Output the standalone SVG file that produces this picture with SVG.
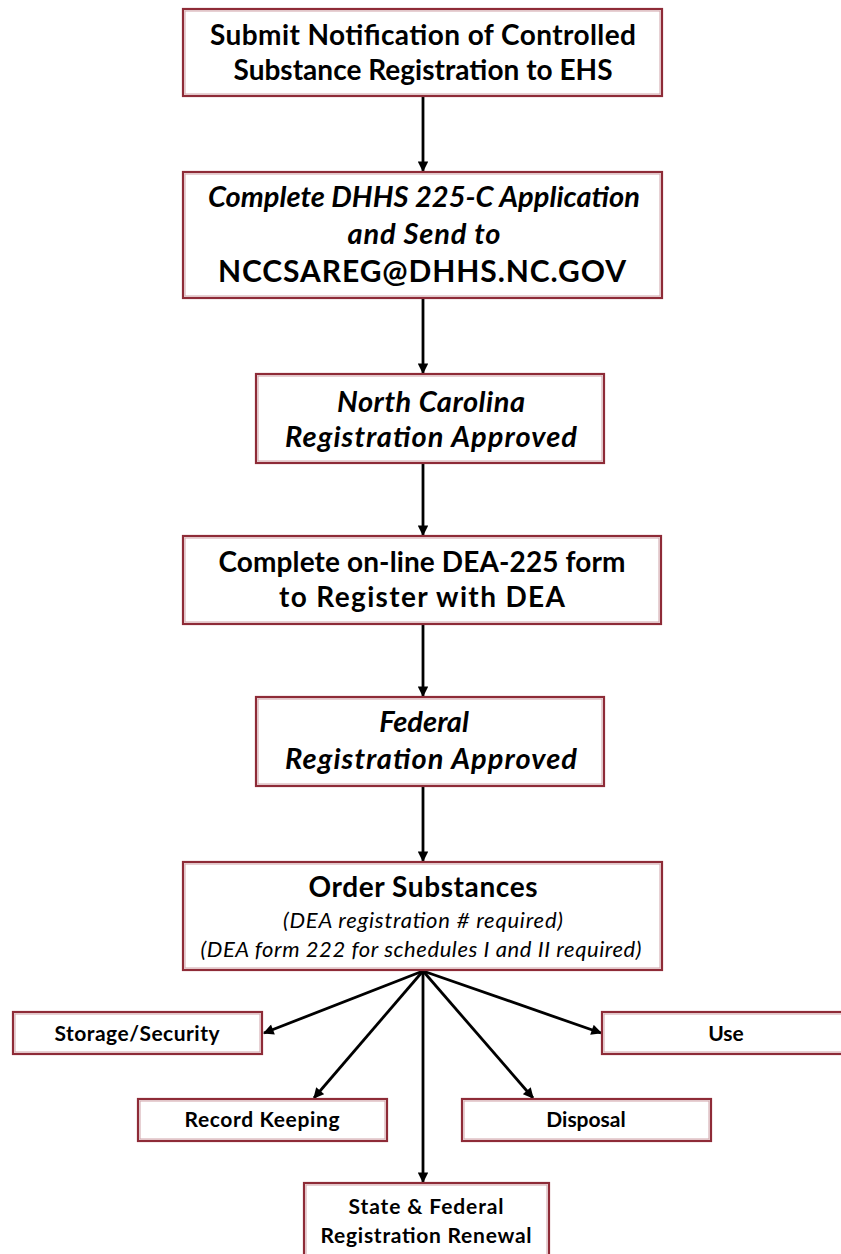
<svg xmlns="http://www.w3.org/2000/svg" width="841" height="1254" viewBox="0 0 841 1254">
<style>
.box{fill:#fff;stroke:#8e2b37;stroke-width:2.2}
.inner{fill:none;stroke:#cfa2a8;stroke-width:1}
text{font-family:Lato,"Liberation Sans",sans-serif;fill:#000;text-anchor:middle}
.h{font-size:28px;font-weight:bold}
.hi{font-size:29px;font-weight:bold;font-style:italic}
.s{font-size:22px;font-style:italic}
.b{font-size:21px;font-weight:bold}
.c{stroke:#000;stroke-width:2.8;fill:none;marker-end:url(#ah)}
</style>
<defs>
<marker id="ah" viewBox="0 0 10 10" refX="9" refY="5" markerWidth="4.2" markerHeight="3.8" orient="auto" markerUnits="strokeWidth">
<path d="M0,0 L10,5 L0,10 z" fill="#000"/>
</marker>
</defs>
<rect width="841" height="1254" fill="#fff"/>
<g id="connectors">
<line class="c" x1="423" y1="97" x2="423" y2="171"/>
<line class="c" x1="423" y1="299" x2="423" y2="373"/>
<line class="c" x1="423" y1="464" x2="423" y2="535"/>
<line class="c" x1="423" y1="625" x2="423" y2="696"/>
<line class="c" x1="423" y1="787" x2="423" y2="861"/>
<line class="c" x1="423" y1="971" x2="264" y2="1033"/>
<line class="c" x1="423" y1="971" x2="601" y2="1033"/>
<line class="c" x1="423" y1="971" x2="314" y2="1098"/>
<line class="c" x1="423" y1="971" x2="533" y2="1098"/>
<line class="c" x1="423" y1="971" x2="423" y2="1182"/>
</g>
<g id="n1">
<rect class="box" x="183" y="9" width="479" height="87"/><rect class="inner" x="185" y="11" width="475" height="83"/>
<text class="h" x="423" y="45" textLength="426">Submit Notification of Controlled</text>
<text class="h" x="423" y="80" textLength="379">Substance Registration to EHS</text>
</g>
<g id="n2">
<rect class="box" x="183" y="172" width="479" height="126"/><rect class="inner" x="185" y="174" width="475" height="122"/>
<text class="hi" x="424" y="207" textLength="432">Complete DHHS 225-C Application</text>
<text class="hi" x="424" y="244" textLength="153">and Send to</text>
<text class="h" x="422" y="282" style="font-size:30px" textLength="408">NCCSAREG@DHHS.NC.GOV</text>
</g>
<g id="n3">
<rect class="box" x="256" y="374" width="348" height="89"/><rect class="inner" x="258" y="376" width="344" height="85"/>
<text class="hi" x="431" y="412" textLength="188">North Carolina</text>
<text class="hi" x="431" y="447" textLength="292">Registration Approved</text>
</g>
<g id="n4">
<rect class="box" x="183" y="536" width="478" height="88"/><rect class="inner" x="185" y="538" width="474" height="84"/>
<text class="h" x="422" y="572" textLength="407">Complete on-line DEA-225 form</text>
<text class="h" x="422" y="607" textLength="286">to Register with DEA</text>
</g>
<g id="n5">
<rect class="box" x="256" y="697" width="348" height="89"/><rect class="inner" x="258" y="699" width="344" height="85"/>
<text class="hi" x="424" y="732">Federal</text>
<text class="hi" x="431" y="769" textLength="292">Registration Approved</text>
</g>
<g id="n6">
<rect class="box" x="183" y="862" width="479" height="108"/><rect class="inner" x="185" y="864" width="475" height="104"/>
<text class="h" x="423" y="897" textLength="229">Order Substances</text>
<text class="s" x="423" y="928" textLength="280">(DEA registration # required)</text>
<text class="s" x="421" y="957" textLength="441">(DEA form 222 for schedules I and II required)</text>
</g>
<g id="n7">
<rect class="box" x="13" y="1012" width="249" height="42"/><rect class="inner" x="15" y="1014" width="245" height="38"/>
<text class="b" x="137" y="1041" textLength="165">Storage/Security</text>
</g>
<g id="n8">
<rect class="box" x="602" y="1012" width="250" height="42"/><rect class="inner" x="604" y="1014" width="246" height="38"/>
<text class="b" x="726" y="1041">Use</text>
</g>
<g id="n9">
<rect class="box" x="138" y="1099" width="249" height="42"/><rect class="inner" x="140" y="1101" width="245" height="38"/>
<text class="b" x="262" y="1127" textLength="155">Record Keeping</text>
</g>
<g id="n10">
<rect class="box" x="462" y="1099" width="249" height="42"/><rect class="inner" x="464" y="1101" width="245" height="38"/>
<text class="b" x="586" y="1127">Disposal</text>
</g>
<g id="n11">
<rect class="box" x="304" y="1183" width="245" height="90"/><rect class="inner" x="306" y="1185" width="241" height="86"/>
<text class="b" x="426" y="1214" textLength="155">State &amp; Federal</text>
<text class="b" x="426" y="1243" textLength="211">Registration Renewal</text>
</g>
</svg>
